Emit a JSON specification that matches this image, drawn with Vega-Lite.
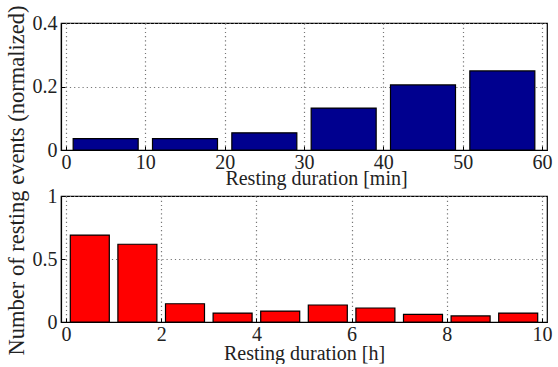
{
  "$schema": "https://vega.github.io/schema/vega-lite/v6.json",
  "background": "white",
  "padding": {"left": 4, "top": 4, "right": 0, "bottom": 0},
  "spacing": 46,
  "bounds": "flush",
  "config": {
    "font": "Liberation Serif",
    "view": {"stroke": "black", "strokeWidth": 1.2},
    "axis": {
      "labelFont": "Liberation Serif",
      "titleFont": "Liberation Serif",
      "labelFontSize": 20,
      "titleFontSize": 20,
      "labelColor": "#222",
      "titleColor": "#222",
      "titleFontWeight": "normal",
      "domainColor": "black",
      "domainWidth": 1.2,
      "tickColor": "black",
      "tickSize": -4,
      "gridColor": "#777",
      "gridDash": [1.2, 3],
      "gridWidth": 1.2
    }
  },
  "datasets": {
    "minutes": [
      {"minutes": 5, "fraction": 0.036},
      {"minutes": 15, "fraction": 0.036},
      {"minutes": 25, "fraction": 0.054},
      {"minutes": 35, "fraction": 0.132},
      {"minutes": 45, "fraction": 0.205},
      {"minutes": 55, "fraction": 0.249}
    ],
    "hours": [
      {"hours": 0.5, "fraction": 0.69},
      {"hours": 1.5, "fraction": 0.617},
      {"hours": 2.5, "fraction": 0.145},
      {"hours": 3.5, "fraction": 0.071},
      {"hours": 4.5, "fraction": 0.087},
      {"hours": 5.5, "fraction": 0.135},
      {"hours": 6.5, "fraction": 0.111},
      {"hours": 7.5, "fraction": 0.061},
      {"hours": 8.5, "fraction": 0.048},
      {"hours": 9.5, "fraction": 0.071}
    ]
  },
  "vconcat": [
    {
      "width": 486,
      "height": 127,
      "data": {"name": "minutes"},
      "mark": {"type": "bar", "width": 65, "color": "#00008F", "stroke": "black", "strokeWidth": 1.2},
      "encoding": {
        "x": {
          "field": "minutes",
          "type": "quantitative",
          "scale": {"domain": [0, 60], "nice": false},
          "axis": {
            "values": [0, 10, 20, 30, 40, 50, 60],
            "title": "Resting duration [min]",
            "labelPadding": 6,
            "titleBaseline": "alphabetic",
            "titleX": 255,
            "titleY": 34,
            "labelFlush": false
          }
        },
        "y": {
          "field": "fraction",
          "type": "quantitative",
          "scale": {"domain": [0, 0.4], "nice": false},
          "axis": {
            "values": [0, 0.2, 0.4],
            "format": "~g",
            "title": null,
            "labelPadding": 8,
            "labelFlush": false
          }
        }
      }
    },
    {
      "width": 486,
      "height": 126,
      "data": {"name": "hours"},
      "mark": {"type": "bar", "width": 39, "color": "#FF0000", "stroke": "black", "strokeWidth": 1.2},
      "encoding": {
        "x": {
          "field": "hours",
          "type": "quantitative",
          "scale": {"domain": [0, 10], "nice": false},
          "axis": {
            "values": [0, 2, 4, 6, 8, 10],
            "title": "Resting duration [h]",
            "labelPadding": 6,
            "titleBaseline": "alphabetic",
            "titleX": 243,
            "titleY": 37,
            "labelFlush": false
          }
        },
        "y": {
          "field": "fraction",
          "type": "quantitative",
          "scale": {"domain": [0, 1], "nice": false},
          "axis": {
            "values": [0, 0.5, 1],
            "format": "~g",
            "title": "Number of resting events (normalized)",
            "titleFontSize": 22.5,
            "titleX": -33,
            "titleY": -16,
            "labelPadding": 8,
            "labelFlush": false
          }
        }
      }
    }
  ]
}
